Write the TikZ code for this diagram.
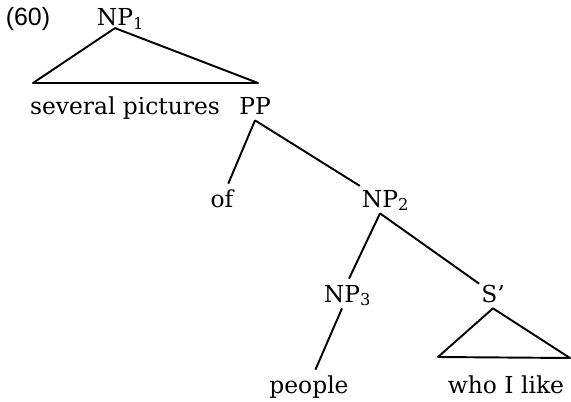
\documentclass[tikz,border=0pt]{standalone}
\usepackage{fontspec}
\setmainfont{DejaVu Serif}
\setsansfont{Liberation Sans}
\begin{document}
\begin{tikzpicture}[
    x=0.02cm, y=-0.02cm,
    cat/.style={anchor=base, inner xsep=1pt, inner ysep=0.12cm, text height=0.34cm, text depth=0pt,
                font=\fontsize{13.3}{16}\selectfont},
    word/.style={cat},
    branch/.style={line width=1.1pt, line join=round}
]
  \useasboundingbox (0,0) rectangle (571,402);

  % example number
  \node[anchor=base, font=\fontsize{14.2}{16}\sffamily] (num) at (28,26) {(60)};

  % NP1 with roof
  \node[cat, inner ysep=1pt] (np1) at (115,26) {NP\rlap{\textsubscript{1}}};
  \node[word] (sev) at (125,114) {several pictures};
  \node[cat] (pp) at (255,114) {PP};
  \coordinate (tl) at (33,83);
  \coordinate (tr) at (258,83);
  \draw[branch] (tl) -- (np1.south) -- (tr) -- cycle;

  % PP
  \node[word] (of) at (222,207) {of};
  \node[cat] (np2) at (380,207) {NP\rlap{\textsubscript{2}}};
  \draw[branch] (pp.south) -- (of);
  \draw[branch] (pp.south) -- (np2);

  % NP2
  \node[cat] (np3) at (342,302) {NP\rlap{\textsubscript{3}}};
  \node[cat] (sbar) at (493,302) {S'};
  \draw[branch] (np2.south) -- (np3);
  \draw[branch] (np2.south) -- (sbar);

  % leaves
  \node[word] (ppl) at (309,393) {people};
  \node[word] (who) at (506,393) {who I like};
  \draw[branch] (np3.south) -- (ppl);
  \coordinate (bl) at (438,357);
  \coordinate (br) at (570,358);
  \draw[branch] (bl) -- (sbar.south) -- (br) -- cycle;
\end{tikzpicture}
\end{document}
